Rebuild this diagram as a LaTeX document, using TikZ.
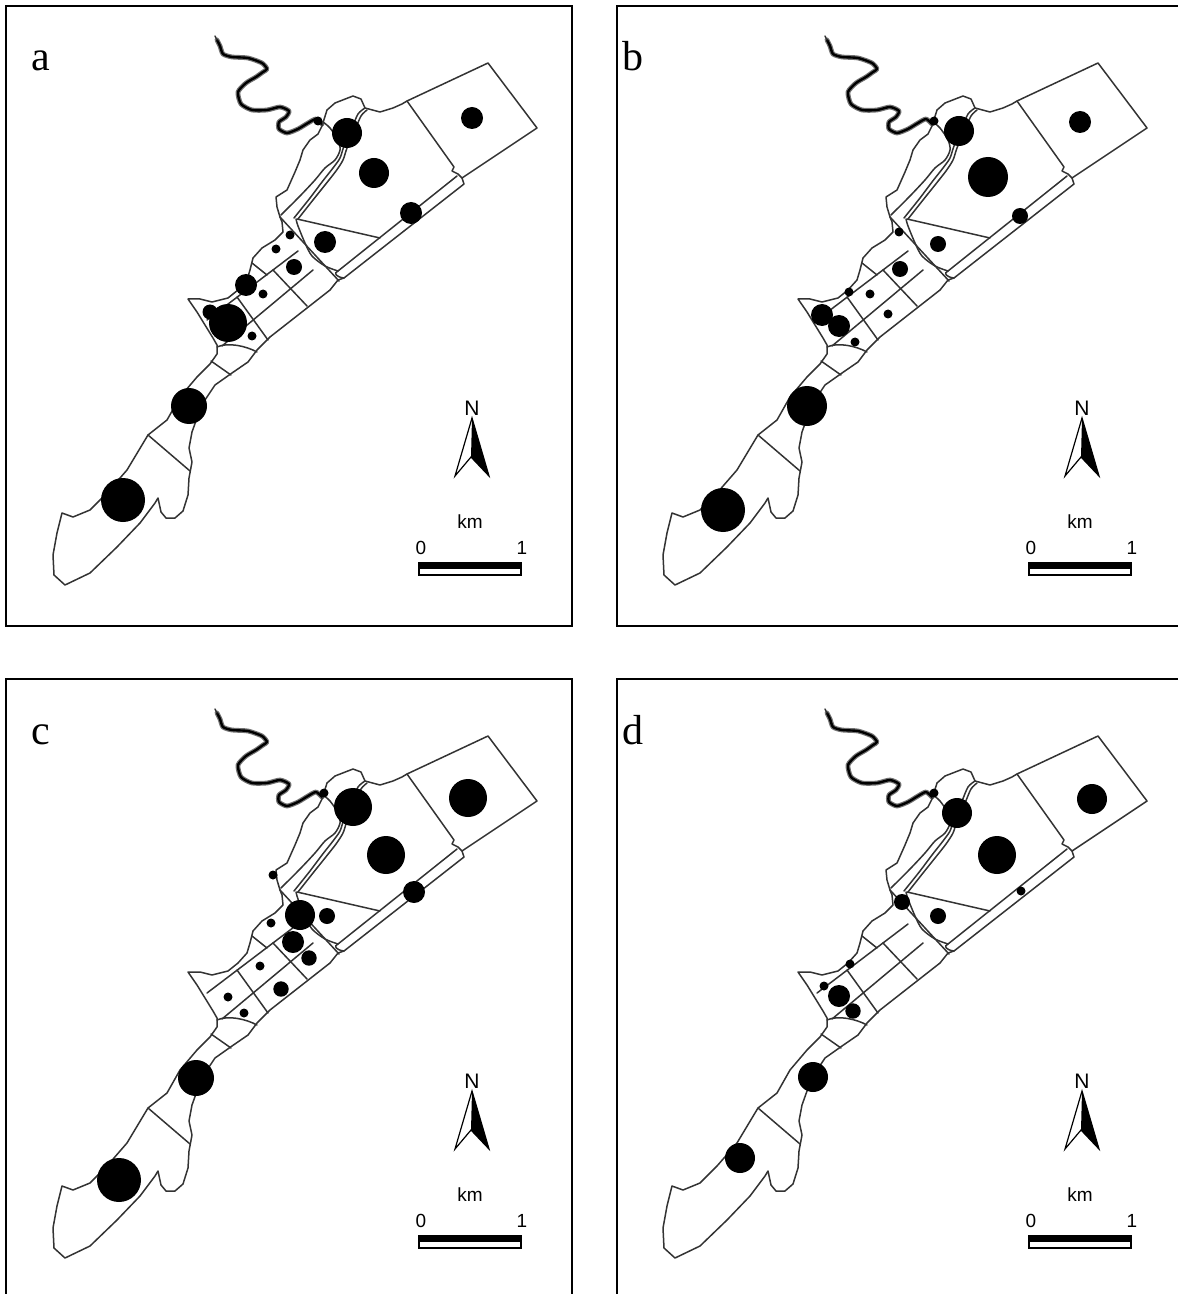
\documentclass[tikz,border=0pt]{standalone}
\usepackage{fontspec}
\setmainfont{Liberation Serif}
\newfontfamily\arialf{Liberation Sans}
\tikzset{
  mapline/.style={draw=black!80, line width=0.75pt, line join=round, line cap=round},
  frameline/.style={draw=black, line width=1pt},
  lbl/.style={font=\fontsize{21}{21}\selectfont, inner sep=0pt, anchor=base west},
  sanslbl/.style={font=\arialf\fontsize{9.5}{9.5}\selectfont, inner sep=0pt},
  riverout/.style={draw=black!55, line width=2.4pt, line join=round, line cap=round},
  riverin/.style={draw=black, line width=1.2pt, line join=round, line cap=round},
}
\newcommand\mymapbase{%
  % river
  \foreach \rs in {riverout,riverin}{
    \draw[\rs] plot[smooth, tension=0.4] coordinates {(322,124) (316,119) (308,123) (298,129) (287,133) (279,129) (279,122) (286,117) (289,111) (280,107) (267,110) (252,110) (241,104) (238,92) (246,83) (256,77) (263,72) (267,69) (262,63) (248,58) (232,57) (223,54) (220,46) (217,40)};
  }
  \draw[mapline] (217,40) -- (215,36);
  % outer boundary
  \draw[mapline] (188,299) -- (200,299) -- (212,302) -- (228,298) -- (238,290) -- (247,280) -- (250,270) -- (253,258) -- (262,248) -- (275,240) -- (283,232) -- (282,222) -- (280,217) -- (277,207) -- (276,197) -- (287,190) -- (295,172) -- (300,160) -- (303,150) -- (310,140) -- (318,134) -- (322,126) -- (327,110) -- (335,103) -- (353,96) -- (361,99) -- (365,108) -- (380,112) -- (393,108) -- (402,104) -- (407,101) -- (488,63) -- (537,128) -- (462,178) -- (464,184) -- (344,278) -- (338,280) -- (330,290) -- (270,337) -- (257,350) -- (248,362) -- (232,373) -- (215,385) -- (205,400) -- (197,418) -- (192,432) -- (189,448) -- (192,462) -- (189,478) -- (188,495) -- (183,511) -- (175,518) -- (166,518) -- (161,512) -- (158,498) -- (155,503) -- (140,523) -- (117,547) -- (90,573) -- (65,585) -- (54,575) -- (53,555) -- (57,533) -- (62,513) -- (73,517) -- (90,510) -- (107,493) -- (127,470) -- (148,435) -- (167,420) -- (180,397) -- (197,377) -- (210,364) -- (217,354) -- (217,345) -- (213,338) -- (205,325) -- (197,312) -- cycle;
  % southern cross lines
  \draw[mapline] (217,347) .. controls (228,342) and (246,346) .. (257,352);
  \draw[mapline] (211,361) -- (231,375);
  \draw[mapline] (148,435) -- (190,471);
  % grid
  \draw[mapline] (280,217) -- (339,281);
  \draw[mapline] (207,320) -- (298,251);
  \draw[mapline] (222,346) -- (313,270);
  \draw[mapline] (252,263) -- (267,275);
  \draw[mapline] (273,270) -- (307,306);
  \draw[mapline] (237,297) -- (268,340);
  % central parcel
  \draw[mapline] plot[smooth, tension=0.5] coordinates {(296,219) (298,226) (305,243) (312,256) (325,266) (338,271)};
  \draw[mapline] (344,278) .. controls (336,277) and (333,273) .. (338,271) -- (457,176);
  \draw[mapline] (297,219) -- (380,238);
  \draw[mapline] (407,101) -- (454,167) -- (452,171) -- (458,174) -- (462,178);
  % north strip
  \draw[mapline] plot[smooth, tension=0.5] coordinates {(281,215) (300,196) (315,180) (325,168) (335,160) (340,150) (338,140) (330,128) (323,122)};
  \draw[mapline] plot[smooth, tension=0.5] coordinates {(294,218) (310,198) (322,182) (333,168) (340,158) (344,146) (352,128) (358,114) (365,108)};
  \draw[mapline] plot[smooth, tension=0.5] coordinates {(298,219) (313,200) (325,185) (336,171) (343,160) (347,148) (355,130) (361,116) (367,110)};
  % north arrow
  \coordinate (tip) at (472,418);
  \coordinate (al) at (455,476);
  \coordinate (ar) at (489,476);
  \coordinate (an) at (471,457);
  \fill[black] (tip) -- (ar) -- (an) -- cycle;
  \draw[black, line width=0.6pt, line join=miter] (tip) -- (al) -- (an) -- (ar) -- cycle;
  \node[sanslbl, font=\arialf\fontsize{10.5}{10.5}\selectfont] (nlab) at (472,408) {N};
  \node[sanslbl] (kmlab) at (470,522) {km};
  \node[sanslbl] (zlab) at (421,548) {0};
  \node[sanslbl] (olab) at (522,548) {1};
  \coordinate (sb1) at (419,563);
  \coordinate (sb2) at (521,575);
  \fill[black] (sb1) rectangle (521,569);
  \draw[black, line width=0.7pt] (sb1) rectangle (sb2);
}
\begin{document}
\begin{tikzpicture}[x=0.5pt, y=-0.5pt]
  \useasboundingbox (0,0) rectangle (1177,1294);
  % frames
  \draw[frameline] (6,6) rectangle (572,626);
  \draw[frameline] (1190,6) -- (617,6) -- (617,626) -- (1190,626);
  \draw[frameline] (6,1310) -- (6,679) -- (572,679) -- (572,1310);
  \draw[frameline] (1190,679) -- (617,679) -- (617,1310);
  % panel a
  \begin{scope}
    \mymapbase
    \node[lbl] (la) at (31,71) {a};
    \foreach \px/\py/\pr in {318/121/4.5, 347/133/15, 374/173/15, 411/213/11, 472/118/11, 325/242/11, 290/235/4.5, 276/249/4.5, 294/267/8, 246/285/11, 263/294/4.5, 210/312/7.5, 228/323/19, 252/336/4.5, 189/406/18, 123/500/22}
      \fill[black] (\px,\py) circle[radius=\pr];
  \end{scope}
  % panel b
  \begin{scope}[shift={(610,0)}]
    \mymapbase
    \node[lbl] (lb) at (12,71) {b};
    \foreach \px/\py/\pr in {324/121/4.5, 349/131/15, 378/177/20, 470/122/11, 410/216/8, 289/232/4.5, 328/244/8, 290/269/8, 239/292/4.5, 260/294/4.5, 278/314/4.5, 212/315/11, 229/326/11, 245/342/4.5, 197/406/20, 113/510/22}
      \fill[black] (\px,\py) circle[radius=\pr];
  \end{scope}
  % panel c
  \begin{scope}[shift={(0,673)}]
    \mymapbase
    \node[lbl] (lc) at (31,71) {c};
    \foreach \px/\py/\pr in {324/120/4.5, 353/134/19, 386/182/19, 468/125/19, 414/219/11, 273/202/4.5, 300/242/15, 327/243/8, 271/250/4.5, 293/269/11, 309/285/7.7, 260/293/4.5, 281/316/7.7, 228/324/4.5, 244/340/4.5, 196/405/18, 119/507/22}
      \fill[black] (\px,\py) circle[radius=\pr];
  \end{scope}
  % panel d
  \begin{scope}[shift={(610,673)}]
    \mymapbase
    \node[lbl] (ld) at (12,71) {d};
    \foreach \px/\py/\pr in {324/120/4.5, 347/140/15, 387/182/19, 482/126/15, 411/218/4.5, 292/229/8, 328/243/8, 240/291/4.5, 214/313/4.5, 229/323/11, 243/338/7.7, 203/404/15, 130/485/15}
      \fill[black] (\px,\py) circle[radius=\pr];
  \end{scope}
\end{tikzpicture}
\end{document}
